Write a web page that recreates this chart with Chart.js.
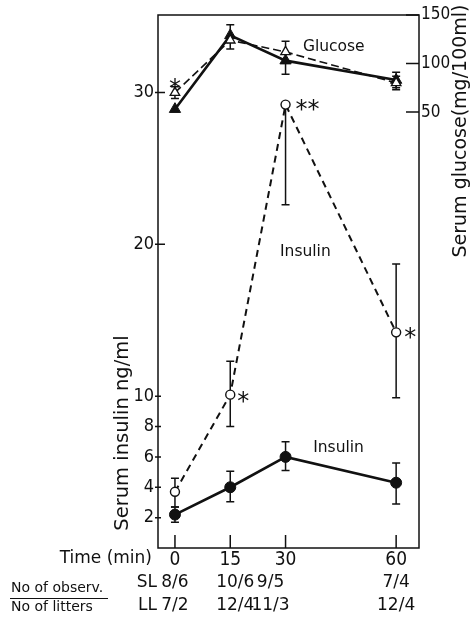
<!DOCTYPE html>
<html>
<head>
<meta charset="utf-8">
<script src="https://cdn.jsdelivr.net/npm/chart.js@4.4.0/dist/chart.umd.min.js"></script>
<style>
html, body { margin: 0; padding: 0; background: #fff; }
</style>
</head>
<body>
<canvas id="myChart" width="475" height="617"></canvas>
<script>
// time points and tick labels
const times = [0, 15, 30, 60];
const insulinTicks = [2, 4, 6, 8, 10, 20, 30];
const glucoseTicks = [50, 100, 150];

// insulin, open circles (dashed)
const insulinOpen = [3.7, 10.1, 29.2, 14.2];
const insulinOpenUp = [0.9, 2.2, 0, 4.5];
const insulinOpenDown = [1.0, 2.1, 6.6, 4.3];

// insulin, filled circles (solid)
const insulinFilled = [2.2, 4.0, 6.0, 4.3];
const insulinFilledUp = [0.5, 1.05, 1.0, 1.3];
const insulinFilledDown = [0.5, 0.95, 0.9, 1.4];

// glucose, open triangles (dashed)
const glucoseOpen = [70, 124, 112, 80];
const glucoseOpenUp = [6, 0, 11, 7];
const glucoseOpenDown = [6, 9, 0, 7];

// glucose, filled triangles (solid)
const glucoseFilled = [53, 129, 103, 83];
const glucoseFilledUp = [0, 11, 0, 8];
const glucoseFilledDown = [0, 0, 14, 8];

// observations / litters
const obsSL = ['8/6', '10/6', '9/5', '7/4'];
const obsLL = ['7/2', '12/4', '11/3', '12/4'];
const obsShift = [0, 5, -15, 0];

const FONT = '"DejaVu Sans", sans-serif';
const NARROW = '"Liberation Sans Narrow", "DejaVu Sans Condensed", "DejaVu Sans", sans-serif';
const INK = '#111';

function pts(vals) {
    return times.map(function (t, i) { return { x: t, y: vals[i] }; });
}

// error bars, drawn under the markers
const errorBars = {
    id: 'errorBars',
    beforeDatasetsDraw: function (chart) {
        const ctx = chart.ctx;
        const a = chart.chartArea;
        ctx.save();
        ctx.beginPath();
        ctx.rect(a.left, a.top, a.right - a.left, a.bottom - a.top);
        ctx.clip();
        ctx.strokeStyle = INK;
        ctx.lineWidth = 1.5;
        chart.data.datasets.forEach(function (ds, di) {
            const meta = chart.getDatasetMeta(di);
            const sc = chart.scales[ds.yAxisID];
            meta.data.forEach(function (p, i) {
                const v = ds.data[i].y;
                [[ds.errUp[i], 1], [ds.errDown[i], -1]].forEach(function (e) {
                    if (!e[0]) return;
                    const y = sc.getPixelForValue(v + e[0] * e[1]);
                    ctx.beginPath();
                    ctx.moveTo(p.x, p.y);
                    ctx.lineTo(p.x, y);
                    ctx.moveTo(p.x - 4, y);
                    ctx.lineTo(p.x + 4, y);
                    ctx.stroke();
                });
            });
        });
        ctx.restore();
    }
};

// frame, tick marks, titles, notes and the table under the axis
const extras = {
    id: 'extras',
    afterDraw: function (chart) {
        const ctx = chart.ctx;
        const a = chart.chartArea;
        const sx = chart.scales.x, sy = chart.scales.y, sy2 = chart.scales.y2;
        ctx.save();
        ctx.strokeStyle = INK;
        ctx.fillStyle = INK;
        ctx.lineWidth = 1.5;
        ctx.strokeRect(a.left, a.top, a.right - a.left, a.bottom - a.top);

        ctx.beginPath();
        insulinTicks.forEach(function (v) {
            const y = sy.getPixelForValue(v);
            ctx.moveTo(a.left - 3, y);
            ctx.lineTo(a.left + (v >= 20 ? 7 : 3), y);
        });
        glucoseTicks.forEach(function (v) {
            const y = sy2.getPixelForValue(v);
            ctx.moveTo(a.right - 13, y);
            ctx.lineTo(a.right, y);
        });
        times.forEach(function (t) {
            const x = sx.getPixelForValue(t);
            ctx.moveTo(x, a.bottom - 13);
            ctx.lineTo(x, a.bottom);
        });
        ctx.stroke();

        // axis titles
        ctx.textAlign = 'center';
        ctx.textBaseline = 'middle';
        ctx.font = '19.5px ' + FONT;
        ctx.save();
        ctx.translate(123, 433);
        ctx.rotate(-Math.PI / 2);
        ctx.fillText('Serum insulin ng/ml', 0, 0);
        ctx.restore();
        ctx.font = '19px ' + FONT;
        ctx.save();
        ctx.translate(461, 131);
        ctx.rotate(-Math.PI / 2);
        ctx.fillText('Serum glucose(mg/100ml)', 0, 0);
        ctx.restore();

        // series labels
        ctx.font = '15.5px ' + FONT;
        ctx.textAlign = 'left';
        ctx.fillText('Glucose', sx.getPixelForValue(34.7), sy.getPixelForValue(33.0));
        ctx.fillText('Insulin', sx.getPixelForValue(28.5), sy.getPixelForValue(19.5));
        ctx.fillText('Insulin', sx.getPixelForValue(37.5), sy.getPixelForValue(6.6));

        // significance marks
        ctx.font = '24px ' + FONT;
        ctx.textAlign = 'center';
        ctx.textBaseline = 'alphabetic';
        function star(s, x, y) { ctx.fillText(s, x, y + 14); }
        star('*', sx.getPixelForValue(0), sy2.getPixelForValue(glucoseOpen[0]) - 11);
        star('**', sx.getPixelForValue(30) + 22, sy.getPixelForValue(insulinOpen[2]) - 2);
        star('*', sx.getPixelForValue(15) + 13, sy.getPixelForValue(insulinOpen[1]));
        star('*', sx.getPixelForValue(60) + 14, sy.getPixelForValue(insulinOpen[3]) - 1);

        // table under the axis
        ctx.font = '17px ' + FONT;
        ctx.textBaseline = 'middle';
        ctx.textAlign = 'right';
        ctx.fillText('Time (min)', 152, 559);
        ctx.fillText('SL', 157, 583);
        ctx.fillText('LL', 157, 606);
        ctx.textAlign = 'center';
        times.forEach(function (t, i) {
            const x = sx.getPixelForValue(t) + obsShift[i];
            ctx.fillText(obsSL[i], x, 583);
            ctx.fillText(obsLL[i], x, 606);
        });
        ctx.font = '14px ' + FONT;
        ctx.textAlign = 'left';
        ctx.fillText('No of observ.', 11, 588);
        ctx.fillText('No of litters', 11, 607);
        ctx.lineWidth = 1.2;
        ctx.beginPath();
        ctx.moveTo(10, 598.5);
        ctx.lineTo(108, 598.5);
        ctx.stroke();
        ctx.restore();
    }
};

new Chart(document.getElementById('myChart'), {
    type: 'line',
    data: {
        datasets: [{
            label: 'Glucose open',
            data: pts(glucoseOpen),
            errUp: glucoseOpenUp, errDown: glucoseOpenDown,
            yAxisID: 'y2',
            borderColor: INK, borderWidth: 1.6, borderDash: [8, 4],
            pointStyle: 'triangle', pointRadius: 5.5,
            pointBackgroundColor: '#fff', pointBorderColor: INK, pointBorderWidth: 1.3
        }, {
            label: 'Glucose filled',
            data: pts(glucoseFilled),
            errUp: glucoseFilledUp, errDown: glucoseFilledDown,
            yAxisID: 'y2',
            borderColor: INK, borderWidth: 2.6,
            pointStyle: 'triangle', pointRadius: 6.5,
            pointBackgroundColor: INK, pointBorderColor: INK, pointBorderWidth: 1
        }, {
            label: 'Insulin open',
            data: pts(insulinOpen),
            errUp: insulinOpenUp, errDown: insulinOpenDown,
            yAxisID: 'y',
            borderColor: INK, borderWidth: 2, borderDash: [7, 5],
            pointStyle: 'circle', pointRadius: 4.5,
            pointBackgroundColor: '#fff', pointBorderColor: INK, pointBorderWidth: 1.4
        }, {
            label: 'Insulin filled',
            data: pts(insulinFilled),
            errUp: insulinFilledUp, errDown: insulinFilledDown,
            yAxisID: 'y',
            borderColor: INK, borderWidth: 2.6,
            pointStyle: 'circle', pointRadius: 5.5,
            pointBackgroundColor: INK, pointBorderColor: INK, pointBorderWidth: 1
        }]
    },
    options: {
        responsive: false,
        animation: false,
        events: [],
        layout: { padding: { top: 15, left: 0, right: 0, bottom: 0 } },
        plugins: { legend: { display: false }, tooltip: { enabled: false } },
        scales: {
            x: {
                type: 'linear', min: -4.6, max: 66.2,
                afterBuildTicks: function (s) { s.ticks = times.map(function (v) { return { value: v }; }); },
                afterFit: function (s) { s.height = 69; },
                grid: { display: false, drawTicks: false },
                border: { display: false },
                ticks: { color: INK, font: { size: 19, family: NARROW }, padding: 1, maxRotation: 0, autoSkip: false }
            },
            y: {
                position: 'left', min: 0, max: 35.1,
                afterBuildTicks: function (s) { s.ticks = insulinTicks.map(function (v) { return { value: v }; }); },
                afterFit: function (s) { s.width = 158; },
                grid: { display: false, drawTicks: false },
                border: { display: false },
                ticks: { color: INK, font: { size: 18, family: NARROW }, padding: 4 }
            },
            y2: {
                position: 'right', min: -399, max: 150,
                afterBuildTicks: function (s) { s.ticks = glucoseTicks.map(function (v) { return { value: v }; }); },
                afterFit: function (s) { s.width = 56; },
                grid: { display: false, drawTicks: false },
                border: { display: false },
                ticks: { color: INK, font: { size: 17, family: NARROW }, padding: 2 }
            }
        }
    },
    plugins: [errorBars, extras]
});
</script>
</body>
</html>
